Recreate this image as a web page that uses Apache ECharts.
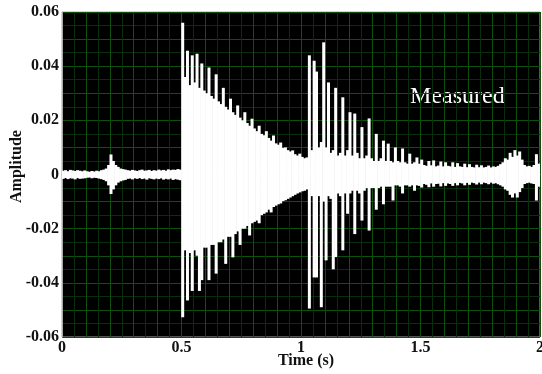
<!DOCTYPE html>
<html>
<head>
<meta charset="utf-8">
<script src="https://cdn.jsdelivr.net/npm/echarts@6/dist/echarts.min.js"></script>
<style>
  html, body { margin: 0; padding: 0; background: #fff; }
  #main { width: 542px; height: 374px; }
</style>
</head>
<body>
<div id="main"></div>
<script>
// waveform envelope, one bin every 0.01 s (bin start times)
var binStep = 0.01;
var upper = [
  0.0014, 0.0016, 0.0012, 0.0017, 0.0015, 0.0013, 0.0016, 0.0014, 0.0012, 0.0015,
  0.0012, 0.0010, 0.0013, 0.0011, 0.0014, 0.0012, 0.0016, 0.0018, 0.0022, 0.0035,
  0.0074, 0.0050, 0.0035, 0.0028, 0.0022, 0.0020, 0.0018, 0.0016, 0.0014, 0.0017,
  0.0015, 0.0013, 0.0016, 0.0018, 0.0014, 0.0015, 0.0017, 0.0013, 0.0016, 0.0014,
  0.0018, 0.0015, 0.0017, 0.0014, 0.0019, 0.0016, 0.0018, 0.0017, 0.0020, 0.0018,
  0.0560, 0.0360, 0.0457, 0.0330, 0.0440, 0.0340, 0.0446, 0.0320, 0.0410, 0.0310,
  0.0300, 0.0395, 0.0290, 0.0280, 0.0370, 0.0270, 0.0260, 0.0320, 0.0250, 0.0240,
  0.0280, 0.0230, 0.0220, 0.0255, 0.0210, 0.0200, 0.0230, 0.0190, 0.0180, 0.0206,
  0.0170, 0.0160, 0.0180, 0.0150, 0.0145, 0.0160, 0.0135, 0.0125, 0.0144, 0.0115,
  0.0110, 0.0118, 0.0098, 0.0100, 0.0090, 0.0085, 0.0089, 0.0075, 0.0070, 0.0077,
  0.0065, 0.0060, 0.0063, 0.0440, 0.0090, 0.0420, 0.0380, 0.0100, 0.0120, 0.0488,
  0.0100, 0.0340, 0.0080, 0.0090, 0.0320, 0.0070, 0.0080, 0.0285, 0.0070, 0.0090,
  0.0230, 0.0070, 0.0225, 0.0080, 0.0060, 0.0175, 0.0060, 0.0070, 0.0207, 0.0060,
  0.0050, 0.0150, 0.0050, 0.0060, 0.0125, 0.0050, 0.0114, 0.0050, 0.0045, 0.0100,
  0.0050, 0.0045, 0.0096, 0.0045, 0.0040, 0.0077, 0.0040, 0.0045, 0.0063, 0.0040,
  0.0055, 0.0035, 0.0032, 0.0050, 0.0034, 0.0052, 0.0030, 0.0033, 0.0048, 0.0030,
  0.0045, 0.0032, 0.0030, 0.0045, 0.0028, 0.0042, 0.0030, 0.0028, 0.0040, 0.0027,
  0.0038, 0.0028, 0.0026, 0.0036, 0.0027, 0.0034, 0.0026, 0.0028, 0.0033, 0.0026,
  0.0030, 0.0028, 0.0032, 0.0038, 0.0045, 0.0060, 0.0055, 0.0080, 0.0065, 0.0090,
  0.0070, 0.0085, 0.0055, 0.0035, 0.0030, 0.0032, 0.0028, 0.0035, 0.0075, 0.0040
];
var lower = [
  -0.0016, -0.0013, -0.0017, -0.0014, -0.0015, -0.0018, -0.0013, -0.0016, -0.0015, -0.0014,
  -0.0012, -0.0011, -0.0014, -0.0012, -0.0013, -0.0015, -0.0017, -0.0020, -0.0025, -0.0040,
  -0.0072, -0.0055, -0.0040, -0.0030, -0.0025, -0.0022, -0.0020, -0.0016, -0.0015, -0.0018,
  -0.0014, -0.0016, -0.0013, -0.0017, -0.0015, -0.0019, -0.0014, -0.0016, -0.0018, -0.0015,
  -0.0017, -0.0014, -0.0019, -0.0016, -0.0018, -0.0015, -0.0020, -0.0017, -0.0019, -0.0021,
  -0.0527, -0.0280, -0.0465, -0.0290, -0.0430, -0.0280, -0.0300, -0.0430, -0.0390, -0.0270,
  -0.0270, -0.0390, -0.0260, -0.0260, -0.0366, -0.0250, -0.0250, -0.0240, -0.0330, -0.0230,
  -0.0230, -0.0306, -0.0220, -0.0210, -0.0260, -0.0200, -0.0200, -0.0190, -0.0225, -0.0180,
  -0.0175, -0.0170, -0.0180, -0.0150, -0.0145, -0.0140, -0.0130, -0.0140, -0.0120, -0.0115,
  -0.0110, -0.0107, -0.0098, -0.0095, -0.0090, -0.0085, -0.0080, -0.0075, -0.0070, -0.0066,
  -0.0062, -0.0060, -0.0055, -0.0495, -0.0080, -0.0380, -0.0380, -0.0080, -0.0490, -0.0100,
  -0.0317, -0.0080, -0.0090, -0.0350, -0.0305, -0.0070, -0.0080, -0.0280, -0.0070, -0.0145,
  -0.0070, -0.0060, -0.0220, -0.0060, -0.0070, -0.0170, -0.0060, -0.0050, -0.0207, -0.0050,
  -0.0050, -0.0130, -0.0050, -0.0045, -0.0110, -0.0045, -0.0045, -0.0045, -0.0096, -0.0040,
  -0.0040, -0.0045, -0.0070, -0.0040, -0.0040, -0.0045, -0.0040, -0.0060, -0.0040, -0.0042,
  -0.0048, -0.0035, -0.0038, -0.0047, -0.0033, -0.0045, -0.0035, -0.0034, -0.0044, -0.0032,
  -0.0042, -0.0033, -0.0035, -0.0042, -0.0032, -0.0040, -0.0031, -0.0033, -0.0040, -0.0031,
  -0.0038, -0.0030, -0.0032, -0.0037, -0.0030, -0.0036, -0.0030, -0.0032, -0.0036, -0.0030,
  -0.0034, -0.0032, -0.0036, -0.0040, -0.0045, -0.0055, -0.0060, -0.0075, -0.0085, -0.0070,
  -0.0085, -0.0065, -0.0050, -0.0035, -0.0032, -0.0030, -0.0033, -0.0035, -0.0096, -0.0045
];

var bins = [];
for (var i = 0; i < upper.length; i++) {
  bins.push([i * binStep, lower[i], upper[i]]);
}

var labelFont = {
  fontFamily: 'Liberation Serif',
  fontWeight: 'bold',
  fontSize: 16,
  color: '#111'
};

var chart = echarts.init(document.getElementById('main'));
chart.setOption({
  animation: false,
  backgroundColor: '#fff',
  grid: {
    left: 62, right: 2, top: 12, bottom: 37,
    outerBoundsMode: 'none',
    show: true, backgroundColor: '#000', borderColor: '#a8a8a8', borderWidth: 1
  },
  xAxis: {
    type: 'value', min: 0, max: 2, interval: 0.1,
    name: 'Time (s)', nameLocation: 'middle', nameGap: 16, nameMoveOverlap: false,
    nameTextStyle: { fontFamily: 'Liberation Serif', fontWeight: 'bold', fontSize: 16, color: '#111', verticalAlign: 'top', padding: [0, 0, 0, 10] },
    axisLine: { lineStyle: { color: '#a8a8a8' } },
    axisTick: { show: false },
    axisLabel: Object.assign({ margin: 3, showMaxLabel: true, formatter: function (v) {
      return Math.abs(v * 2 - Math.round(v * 2)) < 1e-6 ? String(Math.round(v * 10) / 10) : '';
    } }, labelFont),
    splitLine: { show: true, lineStyle: { color: '#0d4f0d', width: 1 } },
    minorTick: { show: false, splitNumber: 2 },
    minorSplitLine: { show: true, lineStyle: { color: '#07300a', width: 1 } }
  },
  yAxis: {
    type: 'value', min: -0.06, max: 0.06, interval: 0.01,
    name: 'Amplitude', nameLocation: 'middle', nameGap: 37, nameRotate: 90, nameMoveOverlap: false,
    nameTextStyle: { fontFamily: 'Liberation Serif', fontWeight: 'bold', fontSize: 16, color: '#111', padding: [0, 0, 0, 16] },
    axisLine: { lineStyle: { color: '#a8a8a8' } },
    axisTick: { show: false },
    axisLabel: Object.assign({ margin: 3, formatter: function (v) {
      var k = Math.round(v * 100);
      return k % 2 === 0 ? String(k / 100) : '';
    } }, labelFont),
    splitLine: { show: true, lineStyle: { color: '#0d4f0d', width: 1 } },
    minorTick: { show: false, splitNumber: 2 },
    minorSplitLine: { show: true, lineStyle: { color: '#07300a', width: 1 } }
  },
  graphic: [{
    type: 'text', left: 410, top: 85, silent: true,
    style: { text: 'Measured', fill: '#fff', font: '24px "Liberation Serif"' }
  }],
  series: [{
    type: 'custom',
    clip: true,
    data: bins,
    encode: { x: 0, y: [1, 2] },
    renderItem: function (params, api) {
      var t = api.value(0);
      var p0 = api.coord([t, api.value(2)]);
      var p1 = api.coord([t + binStep, api.value(1)]);
      // bin drawn from its bottom to its top, a hair wider so neighbours join up
      return {
        type: 'rect',
        shape: { x: p0[0] - 0.3, y: p0[1], width: p1[0] - p0[0] + 0.6, height: p1[1] - p0[1] },
        style: { fill: '#fff' }
      };
    }
  }]
});
</script>
</body>
</html>
